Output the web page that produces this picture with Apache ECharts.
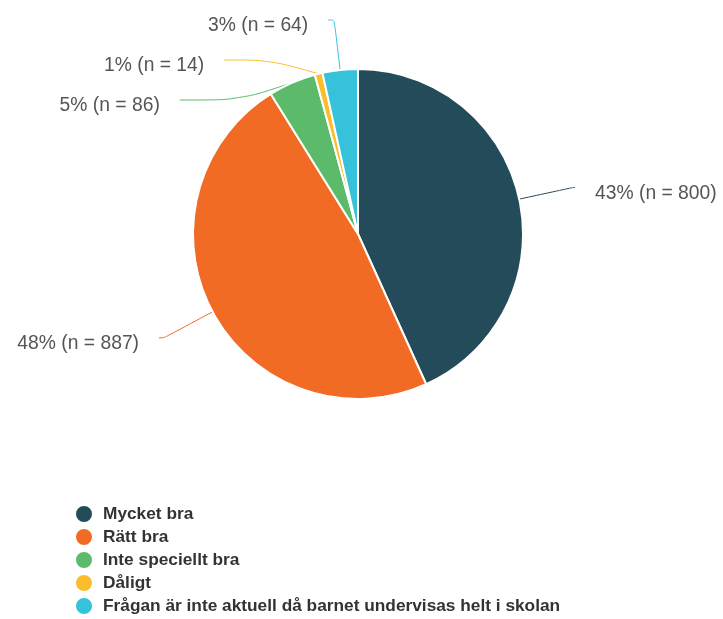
<!DOCTYPE html>
<html>
<head>
<meta charset="utf-8">
<script src="https://cdn.jsdelivr.net/npm/echarts@6/dist/echarts.min.js"></script>
<style>
  html, body { margin: 0; padding: 0; background: #fff; }
  #chart { width: 723px; height: 619px; }
</style>
</head>
<body>
<div id="chart"></div>
<script>
  // svarsalternativ och antal svar
  const categories = ['Mycket bra', 'Rätt bra', 'Inte speciellt bra', 'Dåligt', 'Frågan är inte aktuell då barnet undervisas helt i skolan']
  const counts = [800, 887, 86, 14, 64]
  const percents = [43, 48, 5, 1, 3]
  const colors = ['#234b5a', '#f26b24', '#5cbb6a', '#fbbd2b', '#35c2da']

  // längd på etikettlinjerna (radiell del, vågrät del)
  const lineLen = [55, 55, 10, 15, 54]
  const lineLen2 = [2, 5, 60, 45, 6]

  const chart = echarts.init(document.getElementById('chart'), null, {renderer: 'canvas'})

  const option = {
    animation: false,
    color: colors,
    legend: {
      orient: 'vertical',
      left: 74,
      top: 504,
      height: 130,
      padding: 0,
      icon: 'circle',
      itemWidth: 18,
      itemHeight: 18,
      itemGap: 3,
      textStyle: {
        fontFamily: 'Liberation Sans',
        fontWeight: 'bold',
        fontSize: 17.3,
        lineHeight: 18,
        color: '#333',
        padding: [0, 0, 0, 5]
      },
      data: categories
    },
    series: [
      {
        type: 'pie',
        center: [358, 234],
        radius: 165,
        startAngle: 90,
        clockwise: true,
        itemStyle: {
          borderColor: '#fff',
          borderWidth: 2
        },
        label: {
          formatter: p => percents[p.dataIndex] + '% (n = ' + p.value + ')',
          fontFamily: 'Liberation Sans',
          fontSize: 19.3,
          lineHeight: 38,
          color: '#555',
          overflow: 'none',
          distanceToLabelLine: 20
        },
        labelLine: {
          smooth: 0.3,
          lineStyle: {width: 1}
        },
        // texten sitter lite under linjens slut, som i originalet
        labelLayout: p => ({
          y: p.labelRect.y + p.labelRect.height / 2 + 6,
          labelLinePoints: p.labelLinePoints
        }),
        data: categories.map((name, i) => ({
          name: name,
          value: counts[i],
          labelLine: {length: lineLen[i], length2: lineLen2[i]}
        }))
      }
    ]
  }

  chart.setOption(option)
</script>
</body>
</html>
